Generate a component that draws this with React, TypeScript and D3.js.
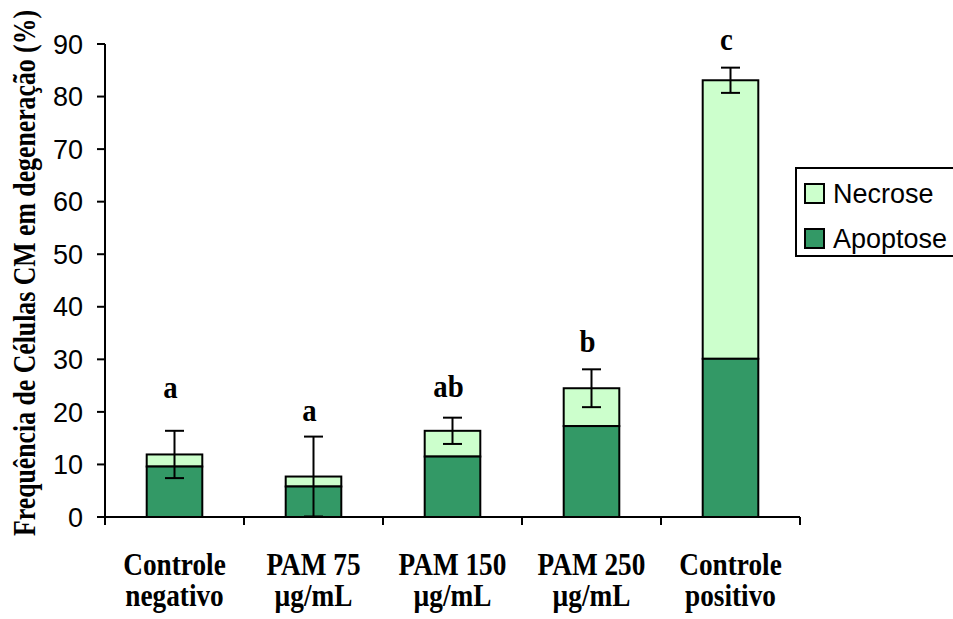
import React from 'react';
import * as d3 from 'd3';

const categories = [
  ['Controle', 'negativo'],
  ['PAM 75', 'µg/mL'],
  ['PAM 150', 'µg/mL'],
  ['PAM 250', 'µg/mL'],
  ['Controle', 'positivo'],
];
const apoptose = [9.6, 5.8, 11.5, 17.3, 30.1];
const necrose = [2.3, 1.9, 4.9, 7.2, 53.0];
const errors = [4.5, 7.6, 2.5, 3.6, 2.4];
const letters = ['a', 'a', 'ab', 'b', 'c'];
const letterLevel = [22.6, 18.3, 22.8, 31.4, 88.8];
const yTicks = [0, 10, 20, 30, 40, 50, 60, 70, 80, 90];

const W = 953;
const H = 619;
const left = 105;
const right = 800;
const top = 44;
const bottom = 517;

const serif = '"Liberation Serif", "Times New Roman", serif';
const sans = '"Liberation Sans", Arial, sans-serif';

export default function App() {
  const x = d3.scaleBand<number>().domain(categories.map((_, i) => i)).range([left, right]).padding(0);
  const y = d3.scaleLinear().domain([0, 90]).range([bottom, top]);
  const bw = x.bandwidth() * 0.4;
  const boundaries = d3.range(categories.length + 1).map(i => left + i * x.bandwidth());
  const mid = (i: number) => x(i)! + x.bandwidth() / 2;

  return (
    <div style={{ position: 'absolute', left: 0, top: 0 }}>
      <svg width={W} height={H} style={{ display: 'block', background: '#fff' }}>
        {/* bars */}
        {categories.map((_, i) => {
          const cx = mid(i);
          const total = apoptose[i] + necrose[i];
          return (
            <g key={i}>
              <rect x={cx - bw / 2} y={y(total)} width={bw} height={y(apoptose[i]) - y(total)}
                fill="#CCFFCC" stroke="#000" strokeWidth={2} />
              <rect x={cx - bw / 2} y={y(apoptose[i])} width={bw} height={y(0) - y(apoptose[i])}
                fill="#339966" stroke="#000" strokeWidth={2} />
            </g>
          );
        })}
        {/* error bars */}
        {categories.map((_, i) => {
          const cx = mid(i);
          const total = apoptose[i] + necrose[i];
          const hi = y(total + errors[i]);
          const lo = y(Math.max(0, total - errors[i]));
          return (
            <g key={'e' + i} stroke="#000" strokeWidth={2}>
              <line x1={cx} x2={cx} y1={hi} y2={lo} />
              <line x1={cx - 9.5} x2={cx + 9.5} y1={hi} y2={hi} />
              <line x1={cx - 9.5} x2={cx + 9.5} y1={lo} y2={lo} />
            </g>
          );
        })}
        {/* significance letters */}
        {letters.map((l, i) => (
          <text key={'l' + i} transform={`translate(${mid(i) - 4},${y(letterLevel[i])}) scale(0.9,1)`}
            textAnchor="middle" fontFamily={serif} fontWeight="bold" fontSize={32}>{l}</text>
        ))}
        {/* y axis */}
        <line x1={left} x2={left} y1={top} y2={bottom + 8} stroke="#000" strokeWidth={2} />
        {yTicks.map(t => (
          <g key={'y' + t}>
            <line x1={left - 8} x2={left} y1={y(t)} y2={y(t)} stroke="#000" strokeWidth={2} />
            <text x={83} y={y(t)} dy="0.36em" textAnchor="end" fontFamily={sans} fontSize={27}>{t}</text>
          </g>
        ))}
        {/* x axis */}
        <line x1={left} x2={right} y1={bottom} y2={bottom} stroke="#000" strokeWidth={2} />
        {boundaries.map((b, i) => (
          <line key={'xt' + i} x1={b} x2={b} y1={bottom} y2={bottom + 8} stroke="#000" strokeWidth={2} />
        ))}
        {categories.map((c, i) => (
          <g key={'xl' + i} transform={`translate(${mid(i)},0) scale(0.88,1)`}>
            <text textAnchor="middle" fontFamily={serif} fontWeight="bold" fontSize={31}>
              <tspan x={0} y={575}>{c[0]}</tspan>
              <tspan x={0} y={606}>{c[1]}</tspan>
            </text>
          </g>
        ))}
        {/* y title */}
        <text transform="translate(35,273) rotate(-90)" textAnchor="middle" fontFamily={serif}
          fontWeight="bold" fontSize={31} textLength={526} lengthAdjust="spacingAndGlyphs">
          Frequência de Células CM em degeneração (%)
        </text>
        {/* legend */}
        <rect x={796} y={168} width={220} height={88} fill="#fff" stroke="#000" strokeWidth={2} />
        <rect x={805} y={184} width={19} height={19} fill="#CCFFCC" stroke="#000" strokeWidth={2} />
        <text x={833} y={193.5} dy="0.36em" fontFamily={sans} fontSize={27}>Necrose</text>
        <rect x={805} y={229} width={19} height={19} fill="#339966" stroke="#000" strokeWidth={2} />
        <text x={833} y={238.5} dy="0.36em" fontFamily={sans} fontSize={27}>Apoptose</text>
      </svg>
    </div>
  );
}
